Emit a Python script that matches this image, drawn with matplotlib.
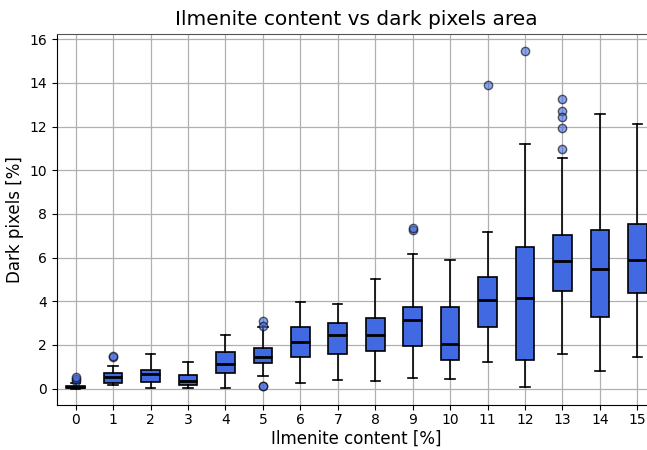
"""Box plot of dark pixel area against ilmenite content, rebuilt from read-off statistics."""

import matplotlib

matplotlib.use("Agg")
import matplotlib.pyplot as plt

ILMENITE = list(range(16))

# Box statistics, in percent of dark pixels.
Q1 = [0.01, 0.27, 0.31, 0.17, 0.73, 1.18, 1.45, 1.60, 1.74, 1.97, 1.29, 2.83, 1.29, 4.48, 3.28, 4.36]
MEDIAN = [0.08, 0.53, 0.65, 0.37, 1.13, 1.45, 2.15, 2.47, 2.44, 3.12, 2.06, 4.07, 4.15, 5.85, 5.49, 5.90]
Q3 = [0.12, 0.72, 0.87, 0.64, 1.68, 1.85, 2.82, 3.00, 3.23, 3.73, 3.76, 5.09, 6.48, 7.05, 7.28, 7.53]
WHISK_LO = [0.00, 0.15, 0.05, 0.05, 0.03, 0.56, 0.26, 0.38, 0.37, 0.50, 0.43, 1.23, 0.09, 1.57, 0.82, 1.43]
WHISK_HI = [0.26, 1.02, 1.60, 1.23, 2.45, 2.80, 3.96, 3.87, 5.03, 6.16, 5.91, 7.18, 11.19, 10.58, 12.57, 12.13]
FLIERS = [
    [0.35, 0.46, 0.55],
    [1.45, 1.50],
    [],
    [],
    [],
    [3.08, 2.88, 0.14, 0.10],
    [],
    [],
    [],
    [7.25, 7.35],
    [],
    [13.90],
    [15.45],
    [13.24, 12.71, 12.42, 11.92, 10.97],
    [],
    [],
]


def main() -> None:
    stats = [
        {"q1": q1, "med": med, "q3": q3, "whislo": lo, "whishi": hi, "fliers": fl}
        for q1, med, q3, lo, hi, fl in zip(Q1, MEDIAN, Q3, WHISK_LO, WHISK_HI, FLIERS)
    ]

    fig = plt.figure(figsize=(6.47, 4.5), dpi=100)
    # the original was cropped on the right, so the axes run past the figure edge
    ax = fig.add_axes([0.088, 0.10, 0.926, 0.825])
    ax.bxp(
        stats,
        positions=ILMENITE,
        widths=0.5,
        patch_artist=True,
        boxprops=dict(facecolor="royalblue", edgecolor="black", linewidth=1.2),
        medianprops=dict(color="black", linewidth=2),
        whiskerprops=dict(color="black", linewidth=1.2),
        capprops=dict(color="black", linewidth=1.2),
        flierprops=dict(marker="o", markerfacecolor="royalblue", markeredgecolor="black",
                        markersize=6, alpha=0.6),
    )
    ax.set_xlim(-0.5, 15.5)
    ax.set_ylim(-0.75, 16.25)
    ax.set_xticks(ILMENITE)
    ax.set_xticklabels([str(v) for v in ILMENITE], fontsize=10)
    ax.set_yticks(range(0, 17, 2))
    ax.tick_params(axis="y", labelsize=10)
    ax.tick_params(axis="x", pad=2.5)
    ax.grid(True, color="#b0b0b0", linewidth=0.9)
    ax.set_axisbelow(True)
    ax.spines["top"].set_color("#555555")
    ax.set_xlabel("Ilmenite content [%]", fontsize=12, labelpad=2)
    ax.set_ylabel("Dark pixels [%]", fontsize=12)
    ax.set_title("Ilmenite content vs dark pixels area", fontsize=14.5)
    fig.savefig("out.png", dpi=100)
    plt.close(fig)


if __name__ == "__main__":
    main()
